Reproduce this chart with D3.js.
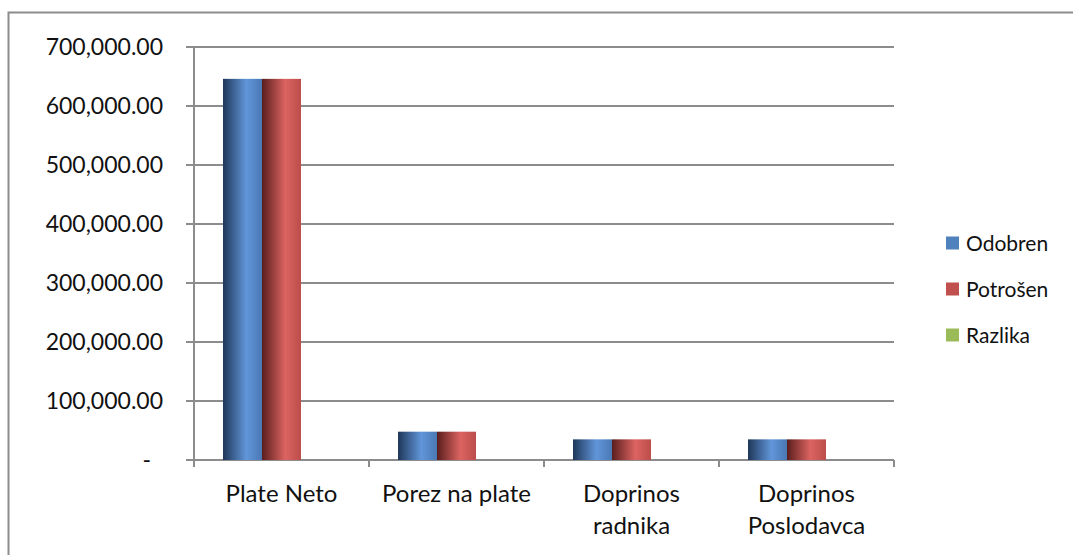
<!DOCTYPE html>
<html>
<head>
<meta charset="utf-8">
<script src="https://cdn.jsdelivr.net/npm/d3@7"></script>
<style>
  html, body { margin: 0; padding: 0; background: #fff; }
  svg { display: block; font-family: Lato, "Open Sans", sans-serif; }
</style>
</head>
<body>
<svg id="chart" width="1073" height="555"></svg>
<script>
// chart data
const categories = ["Plate Neto", "Porez na plate", "Doprinos radnika", "Doprinos Poslodavca"];
const series = ["Odobren", "Potrošen", "Razlika"];
const odobren = [646000, 48000, 35000, 35000];
const potrosen = [646000, 48000, 35000, 35000];
const razlika = [0, 0, 0, 0];
const yTicks = [0, 100000, 200000, 300000, 400000, 500000, 600000, 700000];

const colors = {
  Odobren: ["#1f3759", "#6196da", "#4a78b4"],
  "Potrošen": ["#5a1e1d", "#dc6461", "#bb4d4a"],
  Razlika: ["#4a5a2a", "#a9cb62", "#93b254"]
};

const svg = d3.select("#chart");
const values = { Odobren: odobren, "Potrošen": potrosen, Razlika: razlika };

// frame (right and bottom run off the page)
svg.append("rect")
  .attr("x", 8.5).attr("y", 12.5)
  .attr("width", 1200).attr("height", 700)
  .attr("fill", "none").attr("stroke", "#8c8c8c").attr("stroke-width", 2);

// gradients
const defs = svg.append("defs");
series.forEach((s, i) => {
  const g = defs.append("linearGradient").attr("id", "grad" + i)
    .attr("x1", "0%").attr("x2", "100%").attr("y1", "0%").attr("y2", "0%");
  g.append("stop").attr("offset", "0%").attr("stop-color", colors[s][0]);
  g.append("stop").attr("offset", "60%").attr("stop-color", colors[s][1]);
  g.append("stop").attr("offset", "100%").attr("stop-color", colors[s][2]);
});

const x = d3.scaleBand().domain(categories).range([194, 894]).padding(0);
const xs = d3.scaleBand().domain(series).range([0, x.bandwidth()])
  .paddingInner(0).paddingOuter(0.744);
const y = d3.scaleLinear().domain([0, 700000]).range([460, 47]);

// gridlines
svg.append("g").selectAll("line").data(yTicks).join("line")
  .attr("x1", 186).attr("x2", 894)
  .attr("y1", d => y(d)).attr("y2", d => y(d))
  .attr("stroke", "#8c8c8c").attr("stroke-width", 2);

// y axis line
svg.append("line")
  .attr("x1", 194).attr("x2", 194).attr("y1", y(700000)).attr("y2", y(0) + 1)
  .attr("stroke", "#8c8c8c").attr("stroke-width", 2);

// x ticks
const xTickPos = categories.map(c => x(c)).concat([x.range()[1]]);
svg.append("g").selectAll("line").data(xTickPos).join("line")
  .attr("x1", d => d).attr("x2", d => d)
  .attr("y1", y(0)).attr("y2", y(0) + 7)
  .attr("stroke", "#8c8c8c").attr("stroke-width", 2);

// y labels
const fmt = d3.format(",.2f");
svg.append("g").selectAll("text").data(yTicks).join("text")
  .attr("x", d => d === 0 ? 151 : 163)
  .attr("y", d => y(d))
  .attr("dy", "0.36em")
  .attr("text-anchor", "end")
  .attr("font-size", 23)
  .attr("fill", "#111")
  .text(d => d === 0 ? "-" : fmt(d));

// bars
series.forEach((s, i) => {
  svg.append("g").selectAll("rect").data(categories).join("rect")
    .attr("x", c => x(c) + xs(s))
    .attr("width", xs.bandwidth())
    .attr("y", (c, j) => y(values[s][j]))
    .attr("height", (c, j) => y(0) - y(values[s][j]))
    .attr("fill", `url(#grad${i})`);
});

// category labels, wrapped
const catG = svg.append("g");
categories.forEach(c => {
  const t = catG.append("text")
    .attr("x", x(c) + x.bandwidth() / 2)
    .attr("y", 502)
    .attr("text-anchor", "middle")
    .attr("font-size", 24)
    .attr("fill", "#111");
  const words = c.split(" ");
  let line = [];
  let tspan = t.append("tspan").attr("x", x(c) + x.bandwidth() / 2).attr("dy", 0);
  let lineNo = 0;
  words.forEach(w => {
    line.push(w);
    tspan.text(line.join(" "));
    if (tspan.node().getComputedTextLength() > 165 && line.length > 1) {
      line.pop();
      tspan.text(line.join(" "));
      line = [w];
      lineNo++;
      tspan = t.append("tspan").attr("x", x(c) + x.bandwidth() / 2)
        .attr("dy", 32).text(w);
    }
  });
});

// legend
const legend = svg.append("g").attr("transform", "translate(946,243)");
series.forEach((s, i) => {
  const row = legend.append("g").attr("transform", `translate(0,${i * 46})`);
  row.append("rect").attr("x", 0).attr("y", -6.5).attr("width", 13).attr("height", 13)
    .attr("fill", colors[s][1] === "#6196da" ? "#4f81bd" : s === "Potrošen" ? "#c0504d" : "#9bbb59");
  row.append("text").attr("x", 20).attr("y", 0).attr("dy", "0.36em")
    .attr("font-size", 21).attr("fill", "#111").text(s);
});
</script>
</body>
</html>
